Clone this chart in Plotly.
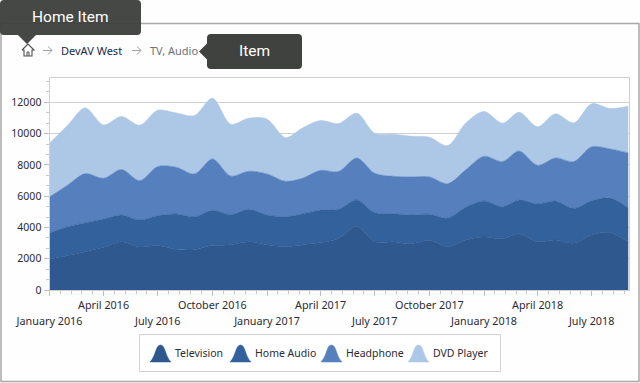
import pandas as pd
import plotly.graph_objects as go

W, H = 640, 383
series_names = ["Television", "Home Audio", "Headphone", "DVD Player"]
series_colors = ["#2e588e", "#33619c", "#5680bd", "#adc7e6"]
months = pd.date_range("2016-01-01", "2018-09-01", freq="MS")

television = [1960, 2200, 2450, 2730, 3090, 2750, 2840, 2600, 2580, 2840, 2900, 3090, 2900, 2770, 2880, 3030, 3300,
              4070, 3090, 3090, 2960, 3180, 2770, 3200, 3390, 3280, 3600, 3090, 3200, 3000, 3520, 3670, 3050]
home_audio = [1690, 1850, 1840, 1810, 1710, 1730, 1910, 2260, 2090, 2260, 1920, 2070, 1900, 1920, 1980, 2090, 1860,
              1690, 1860, 1790, 1840, 1660, 1830, 2090, 2300, 2050, 2160, 2410, 2490, 2220, 2190, 2210, 2190]
headphone = [2300, 2670, 3150, 2600, 2900, 2510, 3140, 2990, 2750, 3280, 2470, 2430, 2620, 2260, 2280, 2530, 2410,
             2680, 2510, 2390, 2430, 2390, 2200, 2390, 2860, 2880, 3130, 2470, 2750, 2990, 3440, 3140, 3520]
dvd_player = [3430, 3830, 4200, 3410, 3390, 3540, 3600, 3470, 3730, 3880, 3310, 3390, 3500, 2790, 3200, 3180, 3070,
              2860, 2560, 2690, 2600, 2540, 2430, 2980, 2860, 2450, 2470, 2460, 2820, 2470, 2750, 2580, 2990]
series_values = [television, home_audio, headphone, dvd_player]

x_tick_dates = pd.date_range("2016-01-01", "2018-07-01", freq="3MS")
x_tick_labels = ["January 2016", "April 2016", "July 2016", "October 2016", "January 2017", "April 2017",
                 "July 2017", "October 2017", "January 2018", "April 2018", "July 2018"]
y_ticks = [0, 2000, 4000, 6000, 8000, 10000, 12000]

TICK_FONT = "Noto Sans"
TEXT = "#2b2b33"
GRID = "#cfcfcf"
DARK = "#40423f"


def px(x):
    return x / W


def py(y):
    return 1 - y / H


def path(points):
    return "M" + " L".join(f"{px(x):.5f},{py(y):.5f}" for x, y in points)


def tip(x0, y0, x1, y1, pointer):
    r = 4
    pts = f"M{px(x0+r):.5f},{py(y0):.5f} L{px(x1-r):.5f},{py(y0):.5f} Q{px(x1):.5f},{py(y0):.5f} {px(x1):.5f},{py(y0+r):.5f} "
    pts += f"L{px(x1):.5f},{py(y1-r):.5f} Q{px(x1):.5f},{py(y1):.5f} {px(x1-r):.5f},{py(y1):.5f} "
    if pointer[0] == "down":
        a, b = pointer[1], pointer[2]
        pts += f"L{px(a+9):.5f},{py(y1):.5f} L{px(a):.5f},{py(b):.5f} L{px(a-9):.5f},{py(y1):.5f} "
    pts += f"L{px(x0+r):.5f},{py(y1):.5f} Q{px(x0):.5f},{py(y1):.5f} {px(x0):.5f},{py(y1-r):.5f} "
    if pointer[0] == "left":
        a, b = pointer[1], pointer[2]
        pts += f"L{px(x0):.5f},{py(b+8):.5f} L{px(a):.5f},{py(b):.5f} L{px(x0):.5f},{py(b-8):.5f} "
    pts += f"L{px(x0):.5f},{py(y0+r):.5f} Q{px(x0):.5f},{py(y0):.5f} {px(x0+r):.5f},{py(y0):.5f} Z"
    return pts


fig = go.Figure()
for name, vals, col in zip(series_names, series_values, series_colors):
    fig.add_trace(go.Scatter(
        x=months, y=vals, name=name, stackgroup="one", mode="lines",
        line=dict(shape="spline", smoothing=0.9, width=0.6, color=col), fillcolor=col,
        showlegend=False,
    ))

# x minor ticks: five intervals per quarter
minor_x = []
for a, b in zip(x_tick_dates, list(x_tick_dates[1:]) + [x_tick_dates[-1] + pd.DateOffset(months=3)]):
    for k in range(1, 5):
        d = a + (b - a) * k / 5
        if d <= months[-1]:
            minor_x.append(d)
minor_y = [v + 2000 * k / 3 for v in y_ticks for k in (1, 2)]

shapes = []
annotations = []
# outer frame
shapes.append(dict(type="rect", xref="paper", yref="paper", x0=px(1), x1=px(639), y0=py(23.5), y1=py(381.5),
                   line=dict(color="#a8a8a8", width=1.5), fillcolor="rgba(0,0,0,0)", layer="below"))
# legend box
shapes.append(dict(type="rect", xref="paper", yref="paper", x0=px(139.5), x1=px(500.5), y0=py(334.5), y1=py(371.5),
                   line=dict(color="#d2d2d2", width=1), fillcolor="white", layer="below"))
# legend mountains
legend_icon_x = [150, 230, 321, 408]
legend_text_x = [174, 254, 345, 432]
for name, col, ix, tx in zip(series_names, series_colors, legend_icon_x, legend_text_x):
    cx = ix + 10.5
    shapes.append(dict(type="path", xref="paper", yref="paper",
                       path=(f"M{px(ix):.5f},{py(362):.5f} C{px(ix+6):.5f},{py(356):.5f} {px(cx-5):.5f},{py(345):.5f} {px(cx):.5f},{py(345):.5f} "
                             f"C{px(cx+5):.5f},{py(345):.5f} {px(ix+15):.5f},{py(356):.5f} {px(ix+21):.5f},{py(362):.5f} Z"),
                       fillcolor=col, line=dict(color=col, width=0.5)))
    annotations.append(dict(x=px(tx), y=py(353), xref="paper", yref="paper", text=name, showarrow=False,
                            xanchor="left", yanchor="middle", xshift=-1, font=dict(family=TICK_FONT, size=10.5, color=TEXT)))

# house icon
house = [(22, 50), (28, 44), (34, 50), (32, 50), (32, 56), (24, 56), (24, 50), (22, 50)]
shapes.append(dict(type="path", xref="paper", yref="paper", path=path(house), line=dict(color="#505050", width=1.1)))
shapes.append(dict(type="path", xref="paper", yref="paper", path=path([(27, 56), (27, 52), (29, 52), (29, 56)]),
                   line=dict(color="#505050", width=1)))
# breadcrumb arrows
for ax in (43, 132):
    shapes.append(dict(type="path", xref="paper", yref="paper",
                       path=path([(ax, 50.5), (ax + 9, 50.5)]), line=dict(color="#a0a0a0", width=1)))
    shapes.append(dict(type="path", xref="paper", yref="paper",
                       path=path([(ax + 5, 46.5), (ax + 9, 50.5), (ax + 5, 54.5)]), line=dict(color="#a0a0a0", width=1)))
annotations.append(dict(x=px(61), y=py(50.5), xref="paper", yref="paper", text="DevAV West", showarrow=False,
                        xanchor="left", yanchor="middle", xshift=-2, font=dict(family=TICK_FONT, size=11, color="#20284a")))
annotations.append(dict(x=px(150), y=py(50.5), xref="paper", yref="paper", text="TV, Audio", showarrow=False,
                        xanchor="left", yanchor="middle", xshift=-2, font=dict(family=TICK_FONT, size=11, color="#70707a")))
# callouts
shapes.append(dict(type="path", xref="paper", yref="paper", path=tip(0, 0, 141, 35, ("down", 27, 44)),
                   fillcolor=DARK, line=dict(width=0), opacity=0.97))
shapes.append(dict(type="path", xref="paper", yref="paper", path=tip(207, 34, 302, 69, ("left", 199, 51.5)),
                   fillcolor=DARK, line=dict(width=0)))
annotations.append(dict(x=px(70.5), y=py(17.5), xref="paper", yref="paper", text="Home Item", showarrow=False,
                        xanchor="center", yanchor="middle", font=dict(family="Roboto", size=15.5, color="white")))
annotations.append(dict(x=px(254.5), y=py(51.5), xref="paper", yref="paper", text="Item", showarrow=False,
                        xanchor="center", yanchor="middle", font=dict(family="Roboto", size=15.5, color="white")))

span = '<span style="font-size:10.8px">%s</span>'
x_ticktext = [("<br>" + span % t if i % 2 == 0 else span % t) for i, t in enumerate(x_tick_labels)]

fig.update_layout(
    width=W, height=H, margin=dict(l=0, r=0, t=0, b=0),
    paper_bgcolor="#fefefe", plot_bgcolor="white", showlegend=False,
    font=dict(family=TICK_FONT, size=10.5, color=TEXT),
    shapes=shapes, annotations=annotations,
    xaxis=dict(
        automargin=False,
        type="date", domain=[px(49.5), px(628.5)], range=[months[0], months[-1]],
        tickmode="array", tickvals=list(x_tick_dates), ticktext=x_ticktext, tickangle=0,
        ticks="outside", ticklen=5, tickcolor="#c0c0c0", tickwidth=1, ticklabelstandoff=-2,
        minor=dict(tickmode="array", tickvals=minor_x, ticks="outside", ticklen=3, tickcolor="#c8c8c8", tickwidth=1,
                   showgrid=False),
        showgrid=False, showline=True, linecolor=GRID, linewidth=1, mirror=True, zeroline=False,
        tickfont=dict(family=TICK_FONT, size=12.3, color=TEXT),
    ),
    yaxis=dict(
        automargin=False,
        domain=[py(290), py(78)], range=[0, 13553], tickformat="d",
        tickmode="array", tickvals=y_ticks, ticks="outside", ticklen=5, tickcolor="#c0c0c0", tickwidth=1,
        minor=dict(tickmode="array", tickvals=minor_y, ticks="outside", ticklen=3, tickcolor="#c8c8c8", tickwidth=1,
                   showgrid=False),
        showgrid=True, gridcolor=GRID, gridwidth=1, showline=True, linecolor=GRID, linewidth=1, mirror=True,
        zeroline=False, tickfont=dict(family=TICK_FONT, size=10.5, color=TEXT),
    ),
)
fig.write_html("out.html", config=dict(displayModeBar=False),
               post_script="document.body.style.margin='0';document.body.style.overflow='hidden';")
